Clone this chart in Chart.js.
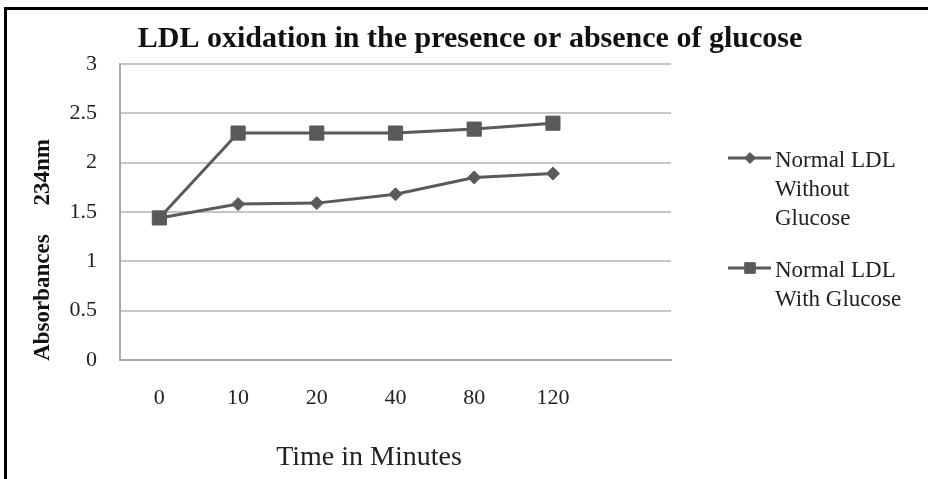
<!DOCTYPE html>
<html>
<head>
<meta charset="utf-8">
<script src="https://cdn.jsdelivr.net/npm/chart.js@4/dist/chart.umd.min.js"></script>
<style>
  html, body { margin: 0; padding: 0; background: #fff; overflow: hidden; }
  #wrap { position: relative; width: 928px; height: 479px; overflow: hidden; }
  #frame { position: absolute; left: 4px; top: 7px; width: 940px; height: 490px;
           border-top: 3px solid #000; border-left: 3px solid #000; pointer-events: none; }
  canvas { position: absolute; left: 0; top: 0; }
</style>
</head>
<body>
<div id="wrap">
  <canvas id="c" width="928" height="479"></canvas>
  <div id="frame"></div>
</div>
<script>
// Sampling times (minutes); the trailing blank slot leaves room on the right of the plot
const categories = ['0', '10', '20', '40', '80', '120', ''];
// Absorbance at 234 nm
const withoutGlucose = [1.44, 1.58, 1.59, 1.68, 1.85, 1.89];
const withGlucose    = [1.44, 2.30, 2.30, 2.30, 2.34, 2.40];
// Legend names, one entry per line
const seriesNames = [
  ['Normal LDL', 'Without', 'Glucose'],
  ['Normal LDL', 'With Glucose']
];
const yMin = 0, yMax = 3, yStep = 0.5;
const chartTitle = 'LDL oxidation in the presence or absence of glucose';
const xAxisTitle = 'Time in Minutes';
const yAxisTitle = 'Absorbances     234nm';

const SERIF = '"Liberation Serif", "Times New Roman", serif';
const LINE = '#5a5a5a';

// Title, axis captions and a line+marker legend drawn onto the canvas
const captions = {
  id: 'captions',
  afterDraw(chart) {
    const ctx = chart.ctx;
    ctx.save();
    ctx.fillStyle = '#111';
    ctx.textAlign = 'center';

    ctx.font = 'bold 30px ' + SERIF;
    ctx.textBaseline = 'alphabetic';
    ctx.fillText(chartTitle, 470, 47);

    ctx.font = '28px ' + SERIF;
    ctx.textBaseline = 'middle';
    ctx.fillStyle = '#222';
    ctx.fillText(xAxisTitle, 369, 458);

    ctx.save();
    ctx.translate(43, 250);
    ctx.rotate(-Math.PI / 2);
    ctx.font = 'bold 23px ' + SERIF;
    ctx.fillStyle = '#111';
    ctx.fillText(yAxisTitle, 0, 0);
    ctx.restore();

    // legend
    const tops = [158, 268];
    chart.data.datasets.forEach((ds, i) => {
      const y = tops[i];
      ctx.strokeStyle = ds.borderColor;
      ctx.lineWidth = 3;
      ctx.beginPath();
      ctx.moveTo(728, y);
      ctx.lineTo(771, y);
      ctx.stroke();
      ctx.fillStyle = ds.pointBackgroundColor;
      ctx.strokeStyle = ds.pointBorderColor;
      ctx.lineWidth = 1;
      Chart.helpers.drawPoint(ctx, {
        pointStyle: ds.pointStyle,
        radius: ds.pointStyle === 'rect' ? 7.5 : 5.5,
        borderWidth: 1,
        rotation: 0
      }, 750, y);
      ctx.fillStyle = '#222';
      ctx.font = '23px ' + SERIF;
      ctx.textAlign = 'left';
      ctx.textBaseline = 'alphabetic';
      seriesNames[i].forEach((ln, k) => ctx.fillText(ln, 775, y + 9 + k * 29));
    });
    ctx.restore();
  }
};

new Chart(document.getElementById('c'), {
  type: 'line',
  data: {
    labels: categories,
    datasets: [
      {
        label: seriesNames[0].join(' '),
        data: withoutGlucose,
        borderColor: LINE,
        borderWidth: 3,
        pointStyle: 'rectRot',
        pointRadius: 6.5,
        pointHoverRadius: 6.5,
        pointBackgroundColor: LINE,
        pointBorderColor: LINE,
        pointBorderWidth: 1,
        tension: 0
      },
      {
        label: seriesNames[1].join(' '),
        data: withGlucose,
        borderColor: LINE,
        borderWidth: 3,
        pointStyle: 'rect',
        pointRadius: 10,
        pointHoverRadius: 10,
        pointBackgroundColor: LINE,
        pointBorderColor: LINE,
        pointBorderWidth: 1,
        tension: 0
      }
    ]
  },
  options: {
    responsive: false,
    animation: false,
    layout: { padding: { left: 0, right: 257, top: 64, bottom: 0 } },
    plugins: {
      legend: { display: false },
      title: { display: false },
      tooltip: { enabled: false }
    },
    scales: {
      x: {
        offset: true,
        grid: { display: false, drawTicks: false },
        border: { display: true, color: '#a8a8a8', width: 2 },
        ticks: {
          font: { family: SERIF, size: 22 },
          color: '#222',
          padding: 25,
          maxRotation: 0,
          autoSkip: false
        },
        afterFit(s) { s.height = 119; }
      },
      y: {
        min: yMin,
        max: yMax,
        grid: { color: '#c6c6c6', lineWidth: 2, drawTicks: false },
        border: { display: true, color: '#a8a8a8', width: 2 },
        ticks: {
          stepSize: yStep,
          font: { family: SERIF, size: 22 },
          color: '#222',
          padding: 23,
          callback: v => String(Number(v))
        },
        afterFit(s) { s.width = 120; }
      }
    }
  },
  plugins: [captions]
});
</script>
</body>
</html>
